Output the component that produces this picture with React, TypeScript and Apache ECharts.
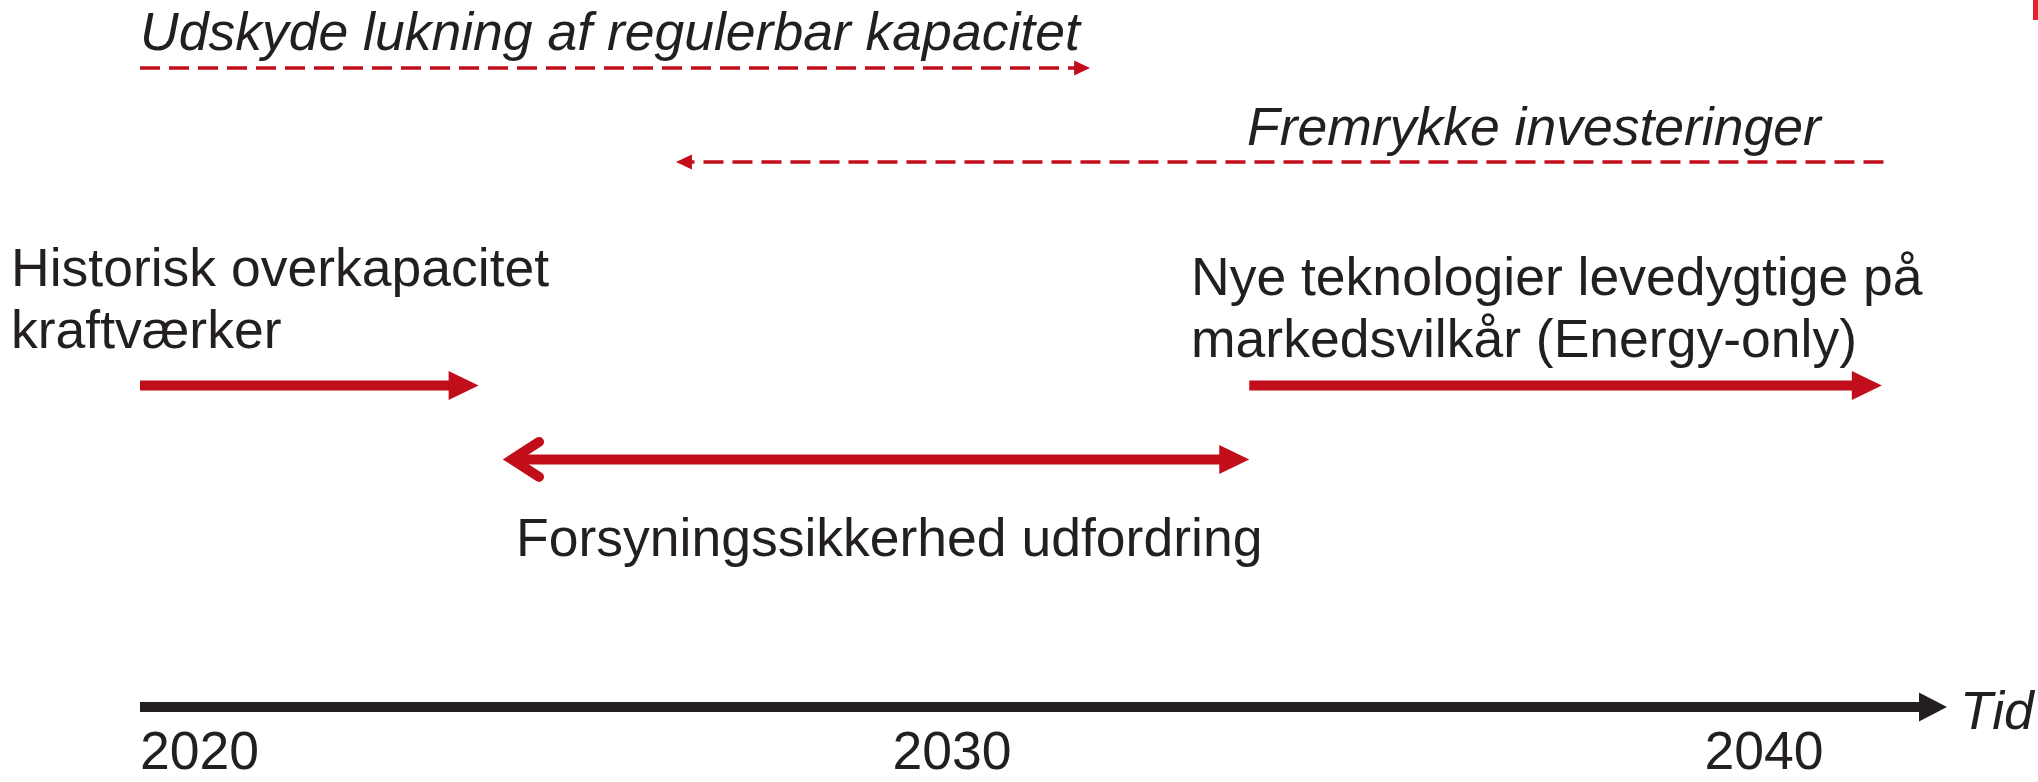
import React, { useEffect, useRef } from "react";
import * as echarts from "echarts";

// Timeline ticks
const tickYears = [2020, 2030, 2040];
const axisMin = 2020;
const axisMax = 2042.08;
const axisName = "Tid";

// Arrows: start (tail) year, end (tip) year, lane (vertical level, 0..100), kind
// kind: 0 = dashed, 1 = solid, 2 = double-headed
const arrowLabels = [
  "Udskyde lukning af regulerbar kapacitet",
  "Fremrykke investeringer",
  "Historisk overkapacitet kraftværker",
  "Forsyningssikkerhed udfordring",
  "Nye teknologier levedygtige på markedsvilkår (Energy-only)",
];
const arrowFrom = [2020, 2041.47, 2020, 2024.47, 2033.66];
const arrowTo = [2031.7, 2026.6, 2024.17, 2033.66, 2041.45];
const arrowLane = [100, 85.3, 50.3, 38.75, 50.3];
const arrowKind = [0, 0, 1, 2, 1];

const RED = "#C20E1A";
const INK = "#231F20";
const FONT = "'Liberation Sans', Arial, Helvetica, sans-serif";
const FS = 53.5;

export default function App() {
  const ref = useRef<HTMLDivElement>(null);

  useEffect(() => {
    if (!ref.current) return;
    const chart = echarts.init(ref.current, undefined, { renderer: "svg" });

    const data = arrowFrom.map((f, i) => [f, arrowTo[i], arrowLane[i], arrowKind[i]]);

    const renderItem = (_params: any, api: any) => {
      const from = api.value(0);
      const to = api.value(1);
      const lane = api.value(2);
      const kind = api.value(3);
      const p0 = api.coord([from, lane]);
      const p1 = api.coord([to, lane]);
      const y = p0[1];
      const dir = p1[0] >= p0[0] ? 1 : -1;
      const children: any[] = [];
      if (kind === 0) {
        const hl = 16;
        const hh = 7.5;
        children.push({
          type: "line",
          shape: { x1: p0[0], y1: y, x2: p1[0] - dir * hl * 0.8, y2: y },
          style: { stroke: RED, lineWidth: 3.5, lineDash: [20, 9] },
        });
        children.push({
          type: "polygon",
          shape: { points: [[p1[0], y], [p1[0] - dir * hl, y - hh], [p1[0] - dir * hl, y + hh]] },
          style: { fill: RED },
        });
      } else {
        const hl = 30;
        const hh = 14.5;
        let x0 = p0[0];
        if (kind === 2) {
          const vx = p0[0] + dir * 9;
          children.push({
            type: "polyline",
            shape: { points: [[vx + dir * 27, y - 17.5], [vx, y], [vx + dir * 27, y + 17.5]] },
            style: { stroke: RED, lineWidth: 10, lineCap: "round", lineJoin: "miter", fill: null },
          });
          x0 = vx;
        }
        children.push({
          type: "line",
          shape: { x1: x0, y1: y, x2: p1[0] - dir * hl * 0.8, y2: y },
          style: { stroke: RED, lineWidth: 10 },
        });
        children.push({
          type: "polygon",
          shape: { points: [[p1[0], y], [p1[0] - dir * hl, y - hh], [p1[0] - dir * hl, y + hh]] },
          style: { fill: RED },
        });
      }
      return { type: "group", children };
    };

    const txt = (text: string, x: number, top: number, italic = false) => ({
      type: "text",
      x,
      y: top,
      style: {
        text,
        fill: INK,
        fontSize: FS,
        fontFamily: FONT,
        fontStyle: italic ? "italic" : "normal",
        lineHeight: 62,
        verticalAlign: "top",
        align: "left",
      },
    });

    chart.setOption({
      animation: false,
      grid: { left: 140, right: 105, top: 68, bottom: 75, containLabel: false },
      xAxis: {
        type: "value",
        min: axisMin,
        max: axisMax,
        interval: 10,
        splitLine: { show: false },
        axisTick: { show: false },
        axisLine: {
          show: true,
          onZero: false,
          lineStyle: { color: INK, width: 10, cap: "butt" },
          symbol: ["none", "triangle"],
          symbolSize: [29, 28],
        },
        axisLabel: {
          margin: 23,
          fontSize: FS,
          lineHeight: 40,
          fontFamily: FONT,
          color: INK,
          showMaxLabel: false,
          formatter: (v: number) => {
            const s = String(Math.round(v));
            if (!tickYears.includes(Math.round(v))) return "";
            return v === axisMin ? `{first|${s}}` : s;
          },
          rich: {
            first: {
              fontSize: FS,
              lineHeight: 40,
              fontFamily: FONT,
              color: INK,
              padding: [0, 0, 0, 119],
            },
          },
        },
      },
      yAxis: { type: "value", min: 0, max: 100, show: false },
      series: [
        {
          type: "custom",
          coordinateSystem: "cartesian2d",
          clip: false,
          renderItem,
          data,
          encode: { x: [0, 1], y: 2 },
        },
      ],
      graphic: [
        txt(arrowLabels[0], 140, 0, true),
        txt(arrowLabels[1], 1247, 95, true),
        txt("Historisk overkapacitet\nkraftværker", 11, 236),
        txt(arrowLabels[3], 516, 506),
        txt("Nye teknologier levedygtige på\nmarkedsvilkår (Energy-only)", 1191, 245),
        txt(axisName, 1960, 679, true),
        { type: "rect", shape: { x: 2033, y: 0, width: 5, height: 20 }, style: { fill: "#E3222B" } },
      ],
    });

    return () => chart.dispose();
  }, []);

  return (
    <div
      ref={ref}
      style={{ position: "absolute", left: 0, top: 0, width: 2038, height: 782, background: "#fff" }}
    />
  );
}
